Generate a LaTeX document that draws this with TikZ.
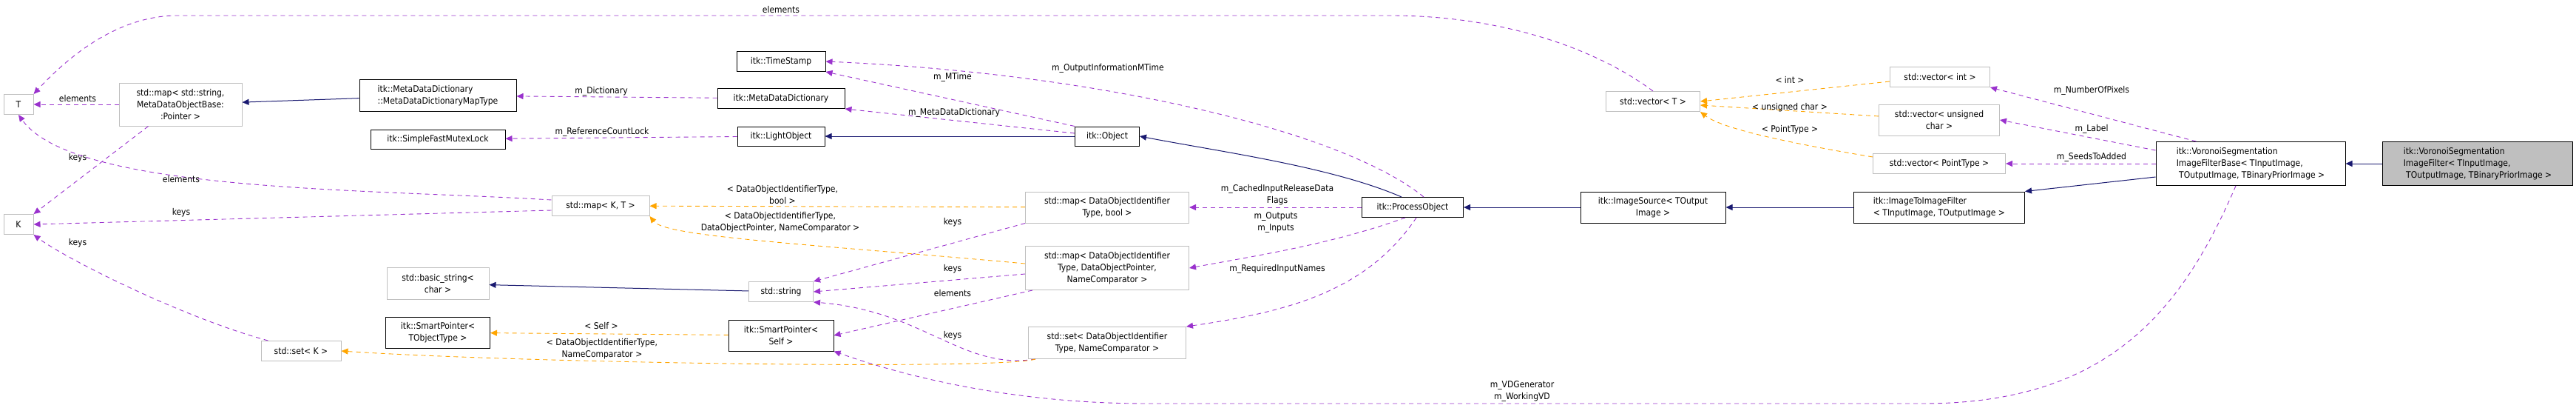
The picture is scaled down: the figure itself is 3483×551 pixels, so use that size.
\documentclass[tikz,border=0pt]{standalone}
\usepackage{fontspec}
\setmainfont{DejaVu Sans Condensed}
\usetikzlibrary{arrows.meta}
\definecolor{pur}{HTML}{9A32CD}
\definecolor{org}{HTML}{FFA500}
\definecolor{nav}{HTML}{191970}
\definecolor{gb}{HTML}{BFBFBF}
\begin{document}
\begin{tikzpicture}[x=1pt,y=-1pt,
  font=\fontsize{12}{16}\selectfont,
  box/.style={draw=black,line width=1pt,fill=white,inner sep=0pt,align=center},
  ubox/.style={draw=gb,line width=1pt,fill=white,inner sep=0pt,align=center},
  tip/.style={-{Triangle[length=9pt,width=8pt]}},
  dp/.style={tip,pur,dashed,dash pattern=on 6pt off 5pt,line width=0.9pt},
  do/.style={tip,org,dashed,dash pattern=on 6pt off 5pt,line width=0.9pt},
  sn/.style={tip,nav,line width=1pt},
  lbl/.style={inner sep=0pt,align=center,fill=none}]
\useasboundingbox (0,0) rectangle (3483,551);
% nodes
\node[ubox,minimum width=40,minimum height=27] (T) at (25,141) {T};
\node[ubox,minimum width=40,minimum height=27] (K) at (25,303) {K};
\node[ubox,minimum width=166,minimum height=58] (mss) at (244,141) {std::map< std::string,\\MetaDataObjectBase:\\:Pointer >};
\node[box,minimum width=212,minimum height=43,align=left] (mdt) at (592,129) {itk::MetaDataDictionary\\::MetaDataDictionaryMapType};
\node[box,minimum width=182,minimum height=26] (mtx) at (592,188) {itk::SimpleFastMutexLock};
\node[ubox,minimum width=138,minimum height=43] (bs) at (592,383) {std::basic\_string<\\char >};
\node[box,minimum width=141,minimum height=42] (spt) at (592,449) {itk::SmartPointer<\\TObjectType >};
\node[ubox,minimum width=108,minimum height=27] (setk) at (407,474) {std::set< K >};
\node[box,minimum width=120,minimum height=27] (ts) at (1056,83) {itk::TimeStamp};
\node[box,minimum width=172,minimum height=27] (mdd) at (1056,133) {itk::MetaDataDictionary};
\node[box,minimum width=118,minimum height=26] (lo) at (1056,184) {itk::LightObject};
\node[ubox,minimum width=132,minimum height=27] (mkt) at (812,278) {std::map< K, T >};
\node[ubox,minimum width=87,minimum height=27] (str) at (1056,394) {std::string};
\node[box,minimum width=142,minimum height=42] (sps) at (1056,453) {itk::SmartPointer<\\Self >};
\node[box,minimum width=87,minimum height=26] (obj) at (1497,184) {itk::Object};
\node[ubox,minimum width=221,minimum height=42] (mdb) at (1497,280) {std::map< DataObjectIdentifier\\Type, bool >};
\node[ubox,minimum width=221,minimum height=59] (mdp) at (1497,362) {std::map< DataObjectIdentifier\\Type, DataObjectPointer,\\NameComparator >};
\node[ubox,minimum width=213,minimum height=43] (sdn) at (1497,463) {std::set< DataObjectIdentifier\\Type, NameComparator >};
\node[box,minimum width=137,minimum height=27] (po) at (1910,280) {itk::ProcessObject};
\node[ubox,minimum width=127,minimum height=27] (vt) at (2235,137) {std::vector< T >};
\node[ubox,minimum width=135,minimum height=27] (vi) at (2623,104) {std::vector< int >};
\node[ubox,minimum width=163,minimum height=42] (vuc) at (2622,162) {std::vector< unsigned\\char >};
\node[ubox,minimum width=179,minimum height=27] (vpt) at (2622,221) {std::vector< PointType >};
\node[box,minimum width=196,minimum height=42] (is) at (2235,280) {itk::ImageSource< TOutput\\Image >};
\node[box,minimum width=231,minimum height=42,align=left] (itf) at (2622,280) {itk::ImageToImageFilter\\< TInputImage, TOutputImage >};
\node[box,minimum width=256,minimum height=59,align=left] (vb) at (3043,221) {itk::VoronoiSegmentation\\ImageFilterBase< TInputImage,\\\ TOutputImage, TBinaryPriorImage >};
\node[box,fill=gb,minimum width=257,minimum height=59,align=left] (vs) at (3350,221) {itk::VoronoiSegmentation\\ImageFilter< TInputImage,\\\ TOutputImage, TBinaryPriorImage >};
% helper coordinates on node borders
\path (mss.south west) ++(40,0) coordinate (a1);
\path (mkt.west) ++(0,-8) coordinate (a2);
\path (mkt.west) ++(0,6) coordinate (a3);
\path (setk.north west) ++(10,0) coordinate (a4);
\path (obj.west) ++(0,-4) coordinate (a5);
\path (po.north) ++(15,0) coordinate (a6);
\path (po.north) ++(-15,0) coordinate (a7);
\path (po.south) ++(-10,0) coordinate (a8);
\path (po.south) ++(5,0) coordinate (a9);
\path (mdp.west) ++(0,-6) coordinate (b1);
\path (mdp.west) ++(0,8) coordinate (b2);
\path (mdp.south west) ++(10,0) coordinate (b3);
\path (sdn.south west) ++(10,0) coordinate (b4);
\path (vb.south) ++(-20,0) coordinate (b5);
\path (vb.west) ++(0,18) coordinate (b6);
\path (vb.north west) ++(55,0) coordinate (b7);
\path (vb.north west) ++(0,12) coordinate (b8);
\path (vi.west) ++(0,6) coordinate (c1);
\path (vpt.north west) ++(0,5) coordinate (c2);
\path (vt.east) ++(0,5) coordinate (c3);
% edges
\draw[dp] (vt.north) .. controls (2150,60) and (2020,21) .. (1880,21) -- (240,21) .. controls (150,21) and (80,90) .. (T.north east);
\node[lbl] at (1056,13) {elements};
\draw[dp] (mss) -- (T);
\node[lbl] at (105,133) {elements};
\draw[dp] (a1) -- (K.north east);
\node[lbl] at (105,213) {keys};
\draw[dp] (a2) .. controls (500,255) and (100,260) .. (T.south);
\node[lbl] at (245,242) {elements};
\draw[dp] (a3) -- (K.east);
\node[lbl] at (245,287) {keys};
\draw[dp] (a4) .. controls (250,430) and (90,350) .. (K.south east);
\node[lbl] at (105,328) {keys};
\draw[sn] (mdt) -- (mss);
\draw[dp] (mdd) -- (mdt);
\node[lbl] at (813,123) {m\_Dictionary};
\draw[dp] (lo) -- (mtx);
\node[lbl] at (814,178) {m\_ReferenceCountLock};
\draw[dp] (obj.north west) -- (ts.south east);
\node[lbl] at (1288,104) {m\_MTime};
\draw[dp] (a5) -- (mdd.south east);
\node[lbl] at (1290,152) {m\_MetaDataDictionary};
\draw[sn] (obj) -- (lo);
\draw[dp] (a6) .. controls (1820,180) and (1500,100) .. (ts.east);
\node[lbl] at (1498,92) {m\_OutputInformationMTime};
\draw[sn] (a7) .. controls (1800,225) and (1650,205) .. (obj.east);
\draw[dp] (po) -- (mdb);
\node[lbl] at (1727,263) {m\_CachedInputReleaseData\\Flags};
\draw[dp] (a8) .. controls (1800,330) and (1700,345) .. (mdp.east);
\node[lbl] at (1725,300) {m\_Outputs\\m\_Inputs};
\draw[dp] (a9) .. controls (1850,390) and (1750,420) .. (sdn.north east);
\node[lbl] at (1727,363) {m\_RequiredInputNames};
\draw[do] (mdb) -- (mkt);
\node[lbl] at (1058,263) {< DataObjectIdentifierType,\\bool >};
\draw[do] (b1) .. controls (1100,330) and (900,320) .. (mkt.south east);
\node[lbl] at (1055,300) {< DataObjectIdentifierType,\\DataObjectPointer, NameComparator >};
\draw[dp] (mdb.south west) -- (str.north east);
\node[lbl] at (1288,300) {keys};
\draw[dp] (b2) -- (str.east);
\node[lbl] at (1288,363) {keys};
\draw[dp] (b3) -- (sps.east);
\node[lbl] at (1288,396) {elements};
\draw[dp] (b4) .. controls (1300,500) and (1250,420) .. (str.south east);
\node[lbl] at (1288,453) {keys};
\draw[do] (b4) .. controls (1350,500) and (700,490) .. (setk.east);
\node[lbl] at (814,471) {< DataObjectIdentifierType,\\NameComparator >};
\draw[do] (sps) -- (spt);
\node[lbl] at (813,440) {< Self >};
\draw[sn] (str) -- (bs);
\draw[dp] (b5) .. controls (2950,420) and (2850,545) .. (2600,545) -- (1550,545) .. controls (1350,545) and (1200,500) .. (sps.south east);
\node[lbl] at (2058,528) {m\_VDGenerator\\m\_WorkingVD};
\draw[sn] (is) -- (po);
\draw[sn] (itf) -- (is);
\draw[sn] (b6) -- (itf.north east);
\draw[dp] (b7) -- (vi.south east);
\node[lbl] at (2828,122) {m\_NumberOfPixels};
\draw[dp] (b8) -- (vuc.east);
\node[lbl] at (2828,174) {m\_Label};
\draw[dp] (vb) -- (vpt);
\node[lbl] at (2828,212) {m\_SeedsToAdded};
\draw[do] (c1) -- (vt.east);
\node[lbl] at (2420,108) {< int >};
\draw[do] (vuc) -- (c3);
\node[lbl] at (2420,145) {< unsigned char >};
\draw[do] (c2) .. controls (2430,195) and (2330,175) .. (vt.south east);
\node[lbl] at (2420,175) {< PointType >};
\draw[sn] (vs) -- (vb);
\end{tikzpicture}
\end{document}
